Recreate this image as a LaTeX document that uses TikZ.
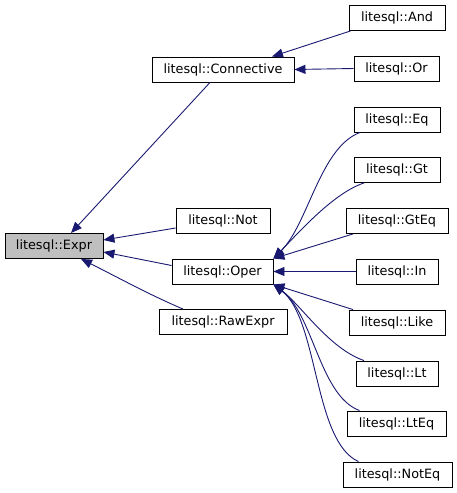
\documentclass[tikz,border=0pt]{standalone}
\usepackage{fontspec}
\setmainfont{DejaVu Sans}
\usetikzlibrary{arrows.meta}
\definecolor{edgeblue}{HTML}{191970}
\begin{document}
\begin{tikzpicture}[x=1pt,y=-1pt,
  cls/.style={draw=black,line width=0.9pt,fill=white,minimum height=25pt,inner sep=0pt,font=\fontsize{12.8}{14}\selectfont},
  edge/.style={draw=edgeblue,line width=0.9pt,{Triangle[length=11pt,width=9pt]}-}]
\useasboundingbox (0,0) rectangle (457,493);
\node[cls,fill=black!25,minimum width=98pt] (Expr) at (54,246) {litesql::Expr};
\node[cls,minimum width=94pt] (Not) at (223,221) {litesql::Not};
\node[cls,minimum width=101pt] (Oper) at (222.5,271.5) {litesql::Oper};
\node[cls,minimum width=128pt] (Raw) at (223,322) {litesql::RawExpr};
\node[cls,minimum width=142pt] (Conn) at (223,69.5) {litesql::Connective};
\node[cls,minimum width=96pt] (And) at (397,18) {litesql::And};
\node[cls,minimum width=85pt] (Or) at (396.5,68.5) {litesql::Or};
\node[cls,minimum width=86pt] (Eq) at (397,119.5) {litesql::Eq};
\node[cls,minimum width=86pt] (Gt) at (397,170) {litesql::Gt};
\node[cls,minimum width=102pt] (GtEq) at (397,221) {litesql::GtEq};
\node[cls,minimum width=82pt] (In) at (397,271.5) {litesql::In};
\node[cls,minimum width=96pt] (Like) at (397,322.5) {litesql::Like};
\node[cls,minimum width=82pt] (Lt) at (397,373.5) {litesql::Lt};
\node[cls,minimum width=99pt] (LtEq) at (396.5,423.5) {litesql::LtEq};
\node[cls,minimum width=109pt] (NotEq) at (397.5,474.5) {litesql::NotEq};

\draw[edge] ([xshift=17pt]Expr.north) -- ([xshift=-13pt]Conn.south);
\draw[edge] ([yshift=6pt]Expr.east) -- ([yshift=-7pt]Not.west);
\draw[edge] ([yshift=-6pt]Expr.east) -- ([yshift=6pt]Oper.west);
\draw[edge] ([xshift=27pt]Expr.south) .. controls +(40,20) and +(-35,-15) .. ([xshift=-40pt]Raw.north);
\draw[edge] ([xshift=49pt]Conn.north) -- ([xshift=2pt]And.south west);
\draw[edge] (Conn.east) -- (Or.west);

\draw[edge] (Oper.north east) .. controls +(35,-35) and +(-40,15) .. ([xshift=-37pt]Eq.south);
\draw[edge] (Oper.north east) .. controls +(27,-28) and +(-30,10) .. ([xshift=-33pt]Gt.south);
\draw[edge] (Oper.north east) -- ([xshift=-44pt]GtEq.south);
\draw[edge] (Oper.east) -- (In.west);
\draw[edge] (Oper.south east) -- ([xshift=-44pt]Like.north);
\draw[edge] (Oper.south east) .. controls +(27,20) and +(-35,-12) .. ([xshift=-33pt]Lt.north);
\draw[edge] (Oper.south east) .. controls +(40,30) and +(-40,-15) .. ([xshift=-37pt]LtEq.north);
\draw[edge] (Oper.south east) .. controls +(45,35) and +(-45,-20) .. ([xshift=-39pt]NotEq.north);
\end{tikzpicture}
\end{document}
